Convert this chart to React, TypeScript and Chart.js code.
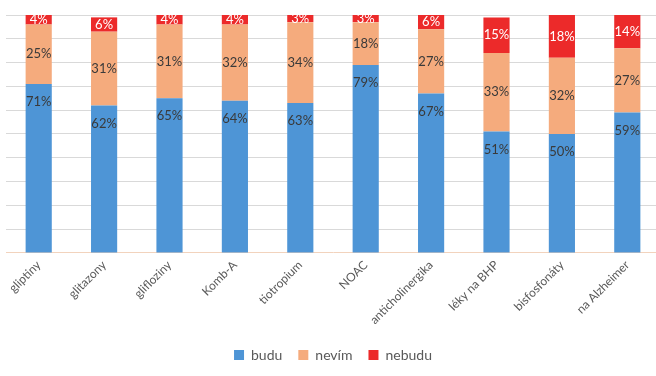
import React, { useEffect, useRef } from "react";
import { Chart, registerables } from "chart.js";

Chart.register(...registerables);

const categories = [
  "gliptiny",
  "glitazony",
  "glifloziny",
  "Komb-A",
  "tiotropium",
  "NOAC",
  "anticholinergika",
  "léky na BHP",
  "bisfosfonáty",
  "na Alzheimer",
];
const budu = [71, 62, 65, 64, 63, 79, 67, 51, 50, 59];
const nevim = [25, 31, 31, 32, 34, 18, 27, 33, 32, 27];
const nebudu = [4, 6, 4, 4, 3, 3, 6, 15, 18, 14];

const seriesNames = ["budu", "nevím", "nebudu"];
const seriesColors = ["#4e95d6", "#f5ab7d", "#ec2a2a"];
const labelColors = ["#3a3a3a", "#3a3a3a", "#ffffff"];

const FONT = "Lato, 'Open Sans', sans-serif";

const labelPlugin = {
  id: "segLabels",
  afterDatasetsDraw(chart: any) {
    const ctx = chart.ctx;
    ctx.save();
    ctx.font = `13px ${FONT}`;
    ctx.textAlign = "center";
    ctx.textBaseline = "middle";
    chart.data.datasets.forEach((ds: any, di: number) => {
      const meta = chart.getDatasetMeta(di);
      meta.data.forEach((el: any, i: number) => {
        const v = ds.data[i];
        const top = Math.min(el.y, el.base);
        const bottom = Math.max(el.y, el.base);
        const y = di === 0 ? top + 18 : (top + bottom) / 2;
        ctx.fillStyle = labelColors[di];
        ctx.fillText(`${v}%`, el.x, y);
      });
    });
    ctx.restore();
  },
};

export default function App() {
  const ref = useRef<HTMLCanvasElement>(null);
  useEffect(() => {
    if (!ref.current) return;
    const data = [budu, nevim, nebudu];
    const chart = new Chart(ref.current, {
      type: "bar",
      data: {
        labels: categories,
        datasets: data.map((d, i) => ({
          label: seriesNames[i],
          data: d,
          backgroundColor: seriesColors[i],
          borderWidth: 0,
          barPercentage: 0.4,
          categoryPercentage: 1,
        })),
      },
      options: {
        responsive: false,
        animation: false,
        layout: { padding: { left: 6, right: 0, top: 15, bottom: 4 } },
        plugins: {
          legend: {
            position: "bottom",
            labels: {
              boxWidth: 10,
              boxHeight: 10,
              padding: 16,
              color: "#595959",
              font: { size: 14, family: FONT },
            },
          },
          tooltip: { enabled: false },
        },
        scales: {
          x: {
            stacked: true,
            grid: { display: false, drawTicks: false },
            border: { display: true, color: "#f2d3bd" },
            ticks: {
              maxRotation: 45,
              minRotation: 45,
              color: "#595959",
              padding: 5,
              font: { size: 12, family: FONT },
            },
          },
          y: {
            stacked: true,
            min: 0,
            max: 100,
            ticks: { display: false, stepSize: 10 },
            border: { display: false },
            grid: {
              drawTicks: false,
              color: (c: any) => (c.tick && c.tick.value === 0 ? "rgba(0,0,0,0)" : "#d9d9d9"),
            },
          },
        },
      },
      plugins: [labelPlugin],
    });
    return () => chart.destroy();
  }, []);
  return (
    <div style={{ position: "absolute", left: 0, top: 0, width: 656, height: 376, overflow: "hidden", background: "#fff" }}>
      <canvas ref={ref} width={660} height={376} />
    </div>
  );
}
